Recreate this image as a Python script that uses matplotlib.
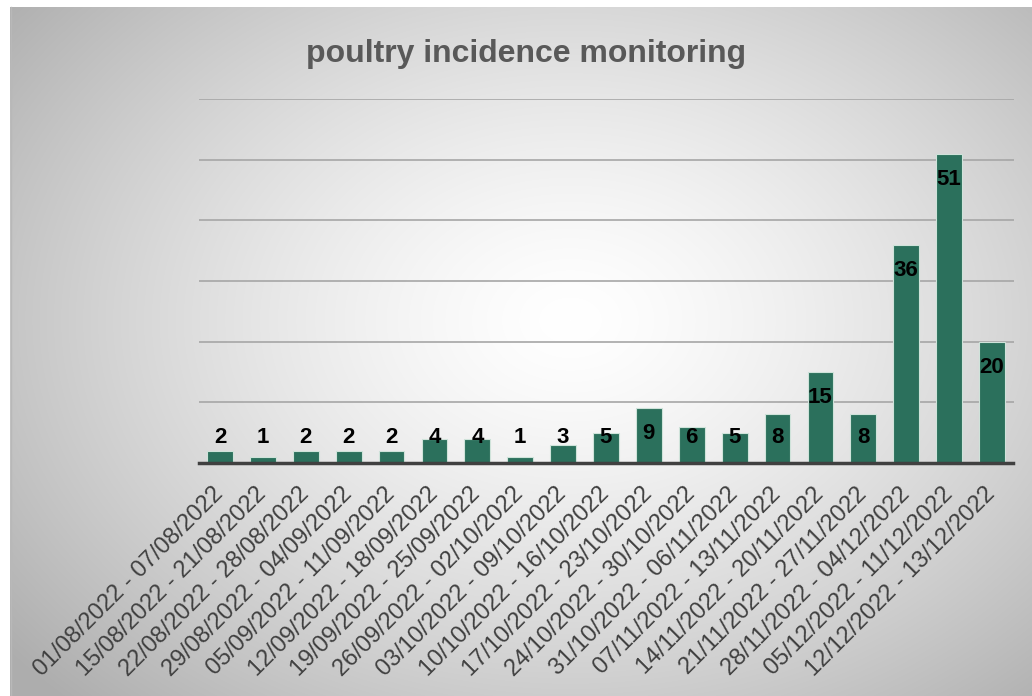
import numpy as np
import matplotlib.pyplot as plt

weeks = [
    "01/08/2022 - 07/08/2022", "15/08/2022 - 21/08/2022", "22/08/2022 - 28/08/2022",
    "29/08/2022 - 04/09/2022", "05/09/2022 - 11/09/2022", "12/09/2022 - 18/09/2022",
    "19/09/2022 - 25/09/2022", "26/09/2022 - 02/10/2022", "03/10/2022 - 09/10/2022",
    "10/10/2022 - 16/10/2022", "17/10/2022 - 23/10/2022", "24/10/2022 - 30/10/2022",
    "31/10/2022 - 06/11/2022", "07/11/2022 - 13/11/2022", "14/11/2022 - 20/11/2022",
    "21/11/2022 - 27/11/2022", "28/11/2022 - 04/12/2022", "05/12/2022 - 11/12/2022",
    "12/12/2022 - 13/12/2022",
]
cases = [2, 1, 2, 2, 2, 4, 4, 1, 3, 5, 9, 6, 5, 8, 15, 8, 36, 51, 20]
title = "poultry incidence monitoring"

plt.rcParams['font.family'] = ['Liberation Sans', 'DejaVu Sans']

W, H = 1032, 696
fig = plt.figure(figsize=(W / 100, H / 100), dpi=100)
fig.patch.set_facecolor('white')

# radial gradient background of the chart area
bg = fig.add_axes([0, 0, 1, 1], zorder=-5)
yy, xx = np.mgrid[0:H, 0:W]
d = np.sqrt(((xx - 570) / 640.0) ** 2 + ((yy - 320) / 470.0) ** 2)
shade = 1 - 0.27 * np.clip(d, 0, 1.3) ** 1.4
shade = np.clip(shade, 0.68, 1)
img = np.dstack([shade] * 3)
bg.imshow(img, extent=(0, W, H, 0), aspect='auto', interpolation='bilinear')
bg.add_patch(plt.Rectangle((0, 0), 10, H, color='white', lw=0))
bg.add_patch(plt.Rectangle((0, 0), W, 7, color='white', lw=0))
bg.plot([10.5, 10.5], [7, H], color='#b8b8b8', lw=1)
bg.set_xlim(0, W)
bg.set_ylim(H, 0)
bg.axis('off')

ax = fig.add_axes([198.5 / W, 1 - 463 / H, 815 / W, 364 / H])
ax.patch.set_alpha(0)
x = np.arange(len(cases))
ax.bar(x, cases, width=0.6, color='#2b705c', edgecolor='#cfe3da', linewidth=0.8, zorder=3)
ax.set_xlim(-0.5, len(cases) - 0.5)
ax.set_ylim(0, 60)
ax.set_yticks(np.arange(0, 61, 10))
ax.yaxis.grid(True, color='#a6a6a6', linewidth=1.2, zorder=0)
ax.tick_params(axis='y', left=False, labelleft=False)
ax.tick_params(axis='x', length=0, pad=20)
for s in ['top', 'right', 'left']:
    ax.spines[s].set_visible(False)
ax.spines['bottom'].set_color('#404040')
ax.spines['bottom'].set_linewidth(2.5)
ax.spines['bottom'].set_zorder(4)

ax.set_xticks(x)
ax.set_xticklabels(weeks, rotation=45, ha='right', va='center', rotation_mode='anchor',
                   fontsize=17, color='#404040')

for xi, v in zip(x, cases):
    ax.text(xi, max(v - 4.2, 4.2), str(v), ha='center', va='center',
            fontsize=16, fontweight='bold', color='black', zorder=5)

fig.text(526 / W, 1 - 54 / H, title, ha='center', va='center',
         fontsize=23, fontweight='bold', color='#595959')

fig.savefig('out.png', dpi=100)
